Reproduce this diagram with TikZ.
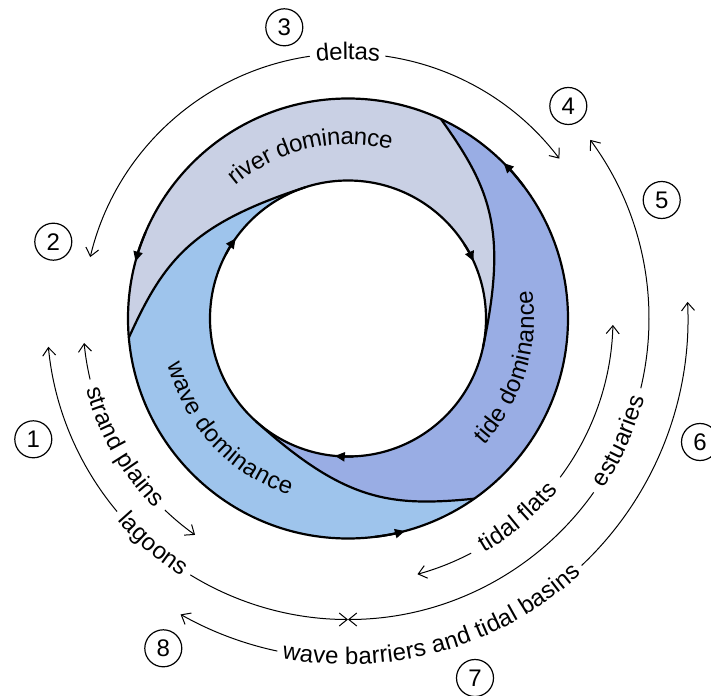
\documentclass[tikz,border=0pt]{standalone}
\usepackage{fontspec}
\setmainfont{Liberation Sans}
\usetikzlibrary{arrows.meta,decorations.text}
\definecolor{rivercol}{HTML}{C9D0E4}
\definecolor{tidecol}{HTML}{99ADE4}
\definecolor{wavecol}{HTML}{9EC4EC}
\newcommand\lblfont{\fontsize{24}{28}\selectfont}
% #1 radius, #2 centre angle, #3 half span (negative = clockwise), #4 text
\newcommand\arclabel[4]{%
  \path[decorate, decoration={text along path, text align=center, raise=-6pt,
        text={|\lblfont|#4}}]
    ({#2-(#3)}:#1) arc[start angle={#2-(#3)}, end angle={#2+(#3)}, radius=#1];}
\begin{document}
\begin{tikzpicture}[x=1pt,y=1pt,
  ring/.style={line width=2.2pt, black},
  ann/.style={line width=1pt, black},
  barb/.style={-{Straight Barb[length=8pt,width=13pt]}},
  tri/.style={-{Triangle[length=10pt,width=9pt]}},
  num/.style={draw, circle, line width=1.2pt, minimum size=37pt, inner sep=0pt, font=\lblfont}]
\useasboundingbox (-348,-376.5) rectangle (363,318.5);
\clip (-348,-376.5) rectangle (363,318.5);

% filled regions
\foreach \p/\c in {0/tidecol,120/rivercol,240/wavecol}{
  \fill[\c] ({-55+\p}:220) arc[start angle={-55+\p}, end angle={65+\p}, radius=220]
    .. controls ({42.52+\p}:193.1) and ({29+\p}:182.9) .. ({-12+\p}:138)
    arc[start angle={-12+\p}, end angle={-132+\p}, radius=138]
    .. controls ({-91+\p}:182.9) and ({-77.48+\p}:193.1) .. ({-55+\p}:220) -- cycle;
}
% outlines
\draw[ring] (0,0) circle[radius=220];
\draw[ring] (0,0) circle[radius=138];
\foreach \p in {0,120,240}{
  \draw[ring] ({65+\p}:220) .. controls ({42.52+\p}:193.1) and ({29+\p}:182.9) .. ({-12+\p}:138);
}
% ring arrowheads
\foreach \a in {45,165,285}{
  \draw[ring,tri] ({\a-8}:220) arc[start angle={\a-8}, end angle=\a, radius=220];
}
\foreach \a in {24.5,144.5,264.5}{
  \draw[ring,tri] ({\a+8}:138) arc[start angle={\a+8}, end angle=\a, radius=138];
}

% annotation arcs
% deltas
\draw[ann,barb] (98.3:265) arc[start angle=98.3, end angle=166.6, radius=265];
\draw[ann,barb] (81.9:265) arc[start angle=81.9, end angle=37.1, radius=265];
% estuaries
\draw[ann,barb] (-13.4:301) arc[start angle=-13.4, end angle=36.4, radius=301];
\draw[ann,barb] (-35.3:301) arc[start angle=-35.3, end angle=-90, radius=301];
% tidal flats
\draw[ann,barb] (-36.8:265) arc[start angle=-36.8, end angle=-1.4, radius=265];
\draw[ann,barb] (-62.3:265) arc[start angle=-62.3, end angle=-74.8, radius=265];
% wave barriers and tidal basins
\draw[ann,barb] (-46.6:340) arc[start angle=-46.6, end angle=2.8, radius=340];
\draw[ann,barb] (-102:340) arc[start angle=-102, end angle=-119.5, radius=340];
% strand plains
\draw[ann,barb] (193.3:265) arc[start angle=193.3, end angle=185.3, radius=265];
\draw[ann,barb] (226.3:265) arc[start angle=226.3, end angle=234.75, radius=265];
% lagoons
\draw[ann,barb] (219.9:301) arc[start angle=219.9, end angle=185.4, radius=301];
\draw[ann,barb] (238.4:301) arc[start angle=238.4, end angle=270, radius=301];

% labels along arcs
\arclabel{265}{90}{-40}{deltas}
\arclabel{301}{-24.3}{40}{estuaries}
\arclabel{265}{-49.5}{40}{tidal flats}
\arclabel{340}{-74.3}{50}{wave barriers and tidal basins}
\arclabel{265}{209.8}{40}{strand plains}
\arclabel{301}{229.2}{40}{lagoons}
\arclabel{180}{103}{-60}{river dominance}
\arclabel{180}{-17}{60}{tide dominance}
\arclabel{180}{223}{60}{wave dominance}

% circled numbers
\node[num] (n1) at (-314.7,-120.8) {1};
\node[num] (n2) at (-294.7,76.8) {2};
\node[num] (n3) at (-63.7,291.2) {3};
\node[num] (n4) at (220.3,212.5) {4};
\node[num] (n5) at (313.7,118.5) {5};
\node[num] (n6) at (352,-123.5) {6};
\node[num] (n7) at (127,-359.5) {7};
\node[num] (n8) at (-184.7,-329.8) {8};
\end{tikzpicture}
\end{document}
